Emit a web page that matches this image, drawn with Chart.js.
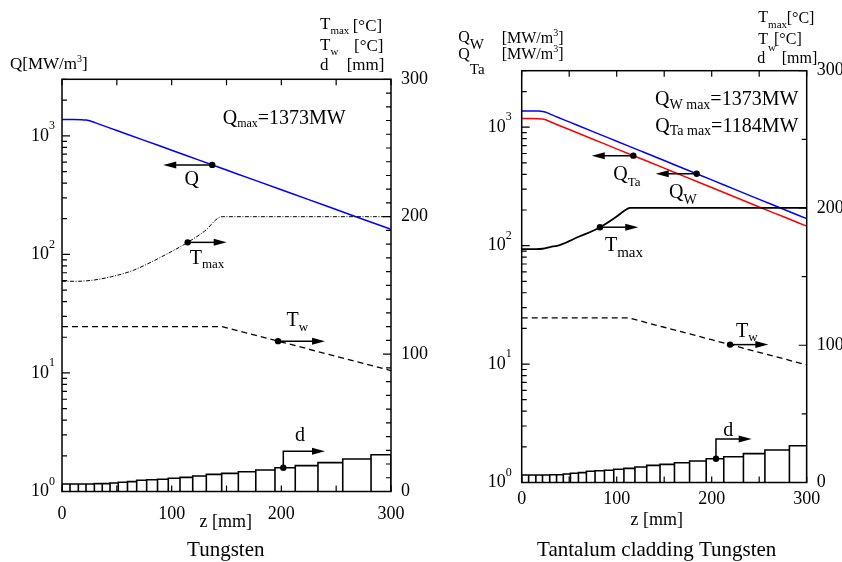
<!DOCTYPE html>
<html>
<head>
<meta charset="utf-8">
<script src="https://cdn.jsdelivr.net/npm/chart.js@4.4.1/dist/chart.umd.min.js"></script>
<style>
  html, body { margin: 0; padding: 0; background: #fff; }
  #wrap { position: relative; width: 842px; height: 562px; }
  canvas { position: absolute; left: 0; top: 0; }
</style>
</head>
<body>
<div id="wrap">
  <canvas id="tungsten" width="842" height="562"></canvas>
  <canvas id="tantalum" width="842" height="562"></canvas>
</div>
<script>
const FONT = '"Liberation Serif", "Times New Roman", serif';

// Axis ranges shared by both panels
const zRange = [0, 300];
const qRange = [1, 3000];
const tRange = [0, 300];
const logDecades = [0, 1, 2, 3];

// Bare tungsten target
const wZ = [0, 10, 18, 22, 26, 30, 50, 75, 100, 125, 150, 175, 200, 225, 250, 275, 300];
const wQ = [1373, 1373, 1370, 1358, 1335, 1294, 1110, 916, 757, 624, 515, 425, 351, 290, 239, 197, 163];
const wTmaxZ = [0, 15, 22, 30, 45, 65, 90, 115, 130, 146, 300];
const wTmax = [153, 153, 153.3, 154, 156.3, 161, 170.5, 181.5, 189.5, 200, 200];
const wTwZ = [0, 146, 200, 250, 300];
const wTw = [120, 120, 108.8, 98.4, 88];

// Tungsten with tantalum cladding
const taZ = [0, 10, 18, 22, 26, 30, 50, 75, 100, 125, 150, 175, 200, 225, 250, 275, 300];
const taQW = [1373, 1373, 1370, 1358, 1335, 1290, 1109, 918, 761, 631, 523, 433, 359, 297, 246, 204, 169];
const taQTa = [1184, 1184, 1181, 1171, 1151, 1112, 956, 792, 656, 544, 451, 373, 310, 256, 212, 176, 146];
const taTmaxZ = [0, 15, 22, 30, 40, 60, 82, 100, 108, 114, 300];
const taTmax = [170, 170, 170.3, 171.5, 173, 179, 185.8, 193.8, 198, 200, 200];
const taTwZ = [0, 112, 150, 200, 250, 300];
const taTw = [120, 120, 113.1, 104, 94.8, 85.7];

// Plate thickness d: plate boundaries along z and thickness of each plate
const dEdges = [0, 7.3, 14.9, 21.9, 29.5, 36.7, 43.8, 51.3, 59.7, 68.1, 77.2, 87.1, 96.9,
  107.6, 119.2, 131.6, 145.6, 160.8, 176.7, 194.2, 212.7, 233.4, 256, 281.8, 300];
const dHeights = [5.5, 5.5, 5.5, 5.5, 5.7, 5.7, 6.2, 6.7, 7.2, 8.2, 8.6, 8.9, 9.6,
  10.3, 11.3, 12.5, 13.2, 14.4, 15.7, 17.3, 18.8, 21.0, 23.7, 26.8];

function points(xs, ys) {
  return xs.map((x, i) => ({ x: x, y: ys[i] }));
}

// Outline of every plate as one polyline along the z axis
function plateOutline(edges, heights) {
  const pts = [];
  heights.forEach((h, i) => {
    pts.push({ x: edges[i], y: 0 }, { x: edges[i], y: h }, { x: edges[i + 1], y: h }, { x: edges[i + 1], y: 0 });
  });
  return pts;
}

function valueAt(zs, vs, z, log) {
  for (let i = 1; i < zs.length; i++) {
    if (z <= zs[i]) {
      const t = (z - zs[i - 1]) / (zs[i] - zs[i - 1]);
      if (log) return 10 ** (Math.log10(vs[i - 1]) + t * (Math.log10(vs[i]) - Math.log10(vs[i - 1])));
      return vs[i - 1] + t * (vs[i] - vs[i - 1]);
    }
  }
  return vs[vs.length - 1];
}

function plateAt(z) {
  for (let i = 1; i < dEdges.length; i++) {
    if (z < dEdges[i]) return dHeights[i - 1];
  }
  return dHeights[dHeights.length - 1];
}

// Text made of pieces, some of them sub- or superscripts: [text, kind, size, shift]
function drawRich(ctx, x, y, parts, size, align) {
  const pieces = parts.map(([text, kind, s, shift]) => {
    const fs = kind ? (s || Math.round(size * 0.65)) : size;
    ctx.font = `${fs}px ${FONT}`;
    let off = 0;
    if (kind === 'sub') off = shift !== undefined ? shift : size * 0.3;
    if (kind === 'sup') off = -(shift !== undefined ? shift : size * 0.45);
    return { text, fs, off, w: ctx.measureText(text).width };
  });
  const total = pieces.reduce((a, p) => a + p.w, 0);
  let cx = align === 'right' ? x - total : align === 'center' ? x - total / 2 : x;
  ctx.textAlign = 'left';
  ctx.textBaseline = 'middle';
  pieces.forEach(p => {
    ctx.font = `${p.fs}px ${FONT}`;
    ctx.fillText(p.text, cx, y + p.off);
    cx += p.w;
  });
}

function drawMarker(chart, m) {
  const ctx = chart.ctx;
  const px = chart.scales.x.getPixelForValue(m.z);
  const v = m.plate ? plateAt(m.z) : valueAt(m.zs, m.vs, m.z, m.log);
  const py = chart.scales[m.axis].getPixelForValue(v);
  const ay = py - (m.rise || 0);
  const ex = px + m.dir * m.len;
  ctx.strokeStyle = '#000';
  ctx.fillStyle = '#000';
  ctx.lineWidth = 1.5;
  ctx.beginPath();
  ctx.moveTo(px, py);
  ctx.lineTo(px, ay);
  ctx.lineTo(ex - m.dir * 8, ay);
  ctx.stroke();
  ctx.beginPath();
  ctx.moveTo(ex, ay);
  ctx.lineTo(ex - m.dir * 13, ay - 3.5);
  ctx.lineTo(ex - m.dir * 13, ay + 3.5);
  ctx.closePath();
  ctx.fill();
  ctx.beginPath();
  ctx.arc(px, py, 3.2, 0, Math.PI * 2);
  ctx.fill();
  drawRich(ctx, px + m.lx, py + m.ly, m.label, 20, m.align || 'left');
}

// Frame with inward ticks, log labels, markers and free text
function panelDecor(p) {
  return {
    id: 'panelDecor',
    afterDatasetsDraw(chart) {
      const { ctx, chartArea: a, scales } = chart;
      ctx.save();
      ctx.strokeStyle = '#000';
      ctx.lineWidth = 1.5;
      ctx.strokeRect(a.left, a.top, a.right - a.left, a.bottom - a.top);

      ctx.lineWidth = 1.2;
      ctx.beginPath();
      for (let z = zRange[0]; z <= zRange[1]; z += 50) {
        const x = scales.x.getPixelForValue(z);
        ctx.moveTo(x, a.bottom); ctx.lineTo(x, a.bottom - 6);
        ctx.moveTo(x, a.top); ctx.lineTo(x, a.top + 6);
      }
      logDecades.forEach(e => {
        for (let k = 1; k <= 9; k++) {
          const v = k * 10 ** e;
          if (v > qRange[1]) break;
          const y = scales.y.getPixelForValue(v);
          ctx.moveTo(a.left, y); ctx.lineTo(a.left + (k === 1 ? 8 : 5), y);
        }
      });
      for (let t = tRange[0]; t <= tRange[1]; t += p.rightStep) {
        const y = scales.y2.getPixelForValue(t);
        ctx.moveTo(a.right, y); ctx.lineTo(a.right - (t % 100 === 0 ? 8 : 5), y);
      }
      ctx.stroke();

      ctx.fillStyle = '#000';
      logDecades.forEach(e => {
        const y = scales.y.getPixelForValue(10 ** e);
        drawRich(ctx, a.left - p.logGap, y, [['10'], [String(e), 'sup', 12, 10]], 18, 'right');
      });

      p.markers.forEach(m => drawMarker(chart, m));

      ctx.fillStyle = '#000';
      p.texts.forEach(t => drawRich(ctx, t.x, t.y, t.parts, t.size, t.align || 'left'));
      ctx.restore();
    }
  };
}

function makePanel(id, p) {
  const tickFont = { family: FONT, size: 18 };
  return new Chart(document.getElementById(id), {
    type: 'line',
    data: { datasets: p.datasets },
    options: {
      responsive: false,
      animation: false,
      devicePixelRatio: 1,
      layout: { padding: { left: p.padLeft, right: p.padRight, top: p.padTop, bottom: 0 }, autoPadding: false },
      plugins: { legend: { display: false }, tooltip: { enabled: false } },
      elements: { point: { radius: 0 } },
      scales: {
        x: {
          type: 'linear', position: 'bottom', min: zRange[0], max: zRange[1],
          grid: { display: false }, border: { display: false },
          ticks: { stepSize: 100, autoSkip: false, maxRotation: 0, font: tickFont, color: '#000', padding: p.xPad },
          afterFit: s => { s.height = p.xHeight; }
        },
        y: {
          type: 'logarithmic', position: 'left', min: qRange[0], max: qRange[1],
          grid: { display: false }, border: { display: false }, ticks: { display: false },
          afterFit: s => { s.width = p.yWidth; }
        },
        y2: {
          type: 'linear', position: 'right', min: tRange[0], max: tRange[1],
          grid: { display: false }, border: { display: false },
          ticks: { stepSize: 100, font: tickFont, color: '#000', padding: 2 },
          afterFit: s => { s.width = p.y2Width; }
        }
      }
    },
    plugins: [panelDecor(p)]
  });
}

function curve(data, axis, color, width, extra) {
  return Object.assign({
    data: data, yAxisID: axis, borderColor: color, borderWidth: width,
    fill: false, tension: 0.4, cubicInterpolationMode: 'monotone'
  }, extra || {});
}

const straight = { tension: 0, cubicInterpolationMode: 'default' };
const sup3 = ['3', 'sup', 10, 6];

// Left panel: tungsten
makePanel('tungsten', {
  padLeft: 0, padRight: 400, padTop: 79.3,
  yWidth: 62, y2Width: 51, xHeight: 70.5, xPad: 3.5, logGap: 7, rightStep: 10,
  datasets: [
    curve(points(wTmaxZ, wTmax), 'y2', '#000', 1, { borderDash: [4, 1.5, 1, 1.5] }),
    curve(points(wTwZ, wTw), 'y2', '#000', 1.3, Object.assign({ borderDash: [6, 4] }, straight)),
    curve(plateOutline(dEdges, dHeights), 'y2', '#000', 1.6, straight),
    curve(points(wZ, wQ), 'y', '#0000ff', 1.5)
  ],
  markers: [
    { zs: wZ, vs: wQ, log: true, z: 137, axis: 'y', dir: -1, len: 49, label: [['Q']], lx: -20.6, ly: 14.4, align: 'center' },
    { zs: wTmaxZ, vs: wTmax, z: 114.6, axis: 'y2', dir: 1, len: 39, label: [['T'], ['max', 'sub', 13]], lx: 2, ly: 16.6 },
    { zs: wTwZ, vs: wTw, z: 197, axis: 'y2', dir: 1, len: 47, label: [['T'], ['w', 'sub', 13]], lx: 8.4, ly: -20 },
    { plate: true, z: 201.8, axis: 'y2', dir: 1, len: 41.7, rise: 16.6, label: [['d']], lx: 16.7, ly: -32.3, align: 'center' }
  ],
  texts: [
    { x: 10, y: 65, size: 17, parts: [['Q[MW/m'], sup3, [']']] },
    { x: 320, y: 25, size: 17, parts: [['T'], ['max', 'sub', 11, 6]] },
    { x: 352.7, y: 26.7, size: 17, parts: [['[°C]']] },
    { x: 320, y: 46, size: 17, parts: [['T'], ['w', 'sub', 11, 6]] },
    { x: 354, y: 47, size: 17, parts: [['[°C]']] },
    { x: 320, y: 66, size: 17, parts: [['d']] },
    { x: 346.7, y: 66, size: 17, parts: [['[mm]']] },
    { x: 222.7, y: 118.3, size: 20, parts: [['Q'], ['max', 'sub', 12, 6], ['=1373MW']] },
    { x: 225.8, y: 522, size: 18, align: 'center', parts: [['z [mm]']] },
    { x: 225.8, y: 550, size: 21, align: 'center', parts: [['Tungsten']] }
  ]
});

// Right panel: tantalum cladding on tungsten
makePanel('tantalum', {
  padLeft: 421, padRight: 0, padTop: 70.7,
  yWidth: 100.7, y2Width: 35.3, xHeight: 79.5, xPad: -2, logGap: 10, rightStep: 50,
  datasets: [
    curve(points(taTmaxZ, taTmax), 'y2', '#000', 1.8),
    curve(points(taTwZ, taTw), 'y2', '#000', 1.3, Object.assign({ borderDash: [6, 4] }, straight)),
    curve(plateOutline(dEdges, dHeights), 'y2', '#000', 1.6, straight),
    curve(points(taZ, taQTa), 'y', '#ff0000', 1.5),
    curve(points(taZ, taQW), 'y', '#0000ff', 1.5)
  ],
  markers: [
    { zs: taZ, vs: taQTa, log: true, z: 117.5, axis: 'y', dir: -1, len: 41.6, label: [['Q'], ['Ta', 'sub', 13, 7.7]], lx: -20, ly: 19 },
    { zs: taZ, vs: taQW, log: true, z: 184.2, axis: 'y', dir: -1, len: 41, label: [['Q'], ['W', 'sub', 14, 7.6]], lx: -27.7, ly: 19 },
    { zs: taTmaxZ, vs: taTmax, z: 82.4, axis: 'y2', dir: 1, len: 38.3, label: [['T'], ['max', 'sub', 15, 6.6]], lx: 5, ly: 19 },
    { zs: taTwZ, vs: taTw, z: 219.3, axis: 'y2', dir: 1, len: 38.3, label: [['T'], ['w', 'sub', 13, 6]], lx: 6, ly: -13 },
    { plate: true, z: 204.5, axis: 'y2', dir: 1, len: 35.7, rise: 19.7, label: [['d']], lx: 12.3, ly: -27.7, align: 'center' }
  ],
  texts: [
    { x: 458.3, y: 38, size: 16, parts: [['Q'], ['W', 'sub', 15, 6.6]] },
    { x: 501.7, y: 39, size: 16, parts: [['[MW/m'], sup3, [']']] },
    { x: 458.3, y: 54.5, size: 16, parts: [['Q'], ['Ta', 'sub', 15, 15.5]] },
    { x: 501.7, y: 55, size: 16, parts: [['[MW/m'], sup3, [']']] },
    { x: 758.3, y: 17.5, size: 16, parts: [['T'], ['max', 'sub', 11, 7.5]] },
    { x: 786.7, y: 18.3, size: 16, parts: [['[°C]']] },
    { x: 758.3, y: 40, size: 16, parts: [['T'], ['w', 'sub', 11, 8]] },
    { x: 774, y: 40, size: 16, parts: [['[°C]']] },
    { x: 757.3, y: 58.3, size: 16, parts: [['d']] },
    { x: 781.7, y: 58.3, size: 16, parts: [['[mm]']] },
    { x: 798.3, y: 99.3, size: 20, align: 'right', parts: [['Q'], ['W max', 'sub', 14, 6], ['=1373MW']] },
    { x: 798.3, y: 126.7, size: 20, align: 'right', parts: [['Q'], ['Ta max', 'sub', 14, 5], ['=1184MW']] },
    { x: 656.7, y: 520, size: 18, align: 'center', parts: [['z [mm]']] },
    { x: 656.7, y: 550, size: 21, align: 'center', parts: [['Tantalum cladding Tungsten']] }
  ]
});
</script>
</body>
</html>
